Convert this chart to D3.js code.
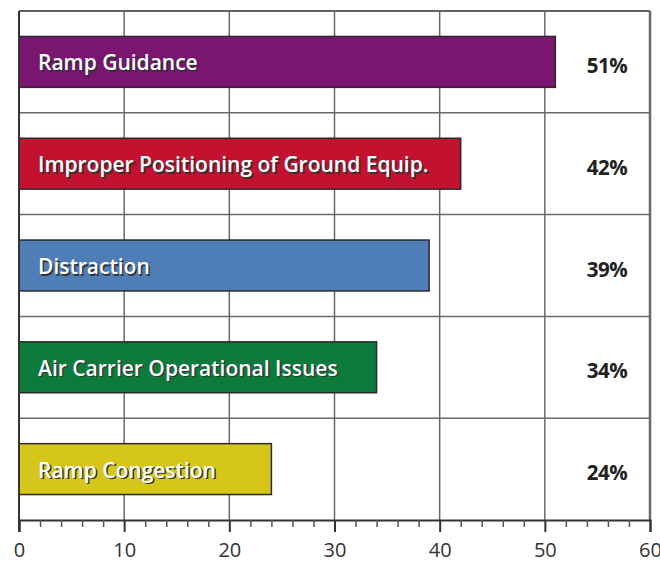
<!DOCTYPE html>
<html>
<head>
<meta charset="utf-8">
<script src="https://cdn.jsdelivr.net/npm/d3@7"></script>
<style>
  body { margin: 0; background: #fff; }
  svg { display: block; }
</style>
</head>
<body>
<div id="chart"></div>
<script>
// values
const categories = [
  "Ramp Guidance",
  "Improper Positioning of Ground Equip.",
  "Distraction",
  "Air Carrier Operational Issues",
  "Ramp Congestion"
];
const values = [51, 42, 39, 34, 24];
const barColors = ["#7a1670", "#c3122f", "#4f7db5", "#0b7a3b", "#d6c61a"];
const majorTicks = [0, 10, 20, 30, 40, 50, 60];
const minorTicks = d3.range(0, 61, 2).filter(d => d % 10 !== 0);

let width = 660, height = 563;
let margin = {top: 11, right: 10, bottom: 43, left: 19};

let svg = d3.select("#chart")
  .append("svg")
  .attr("width", width)
  .attr("height", height);

let x = d3.scaleLinear()
  .domain([0, 60])
  .range([margin.left, width - margin.right]);

let y = d3.scaleBand()
  .domain(categories)
  .range([margin.top, height - margin.bottom])
  .paddingInner(0.5)
  .paddingOuter(0.25);

let step = y.step();
let plotBottom = height - margin.bottom;

// vertical grid
svg.append("g")
  .selectAll("line")
  .data(majorTicks.slice(1))
  .enter()
  .append("line")
  .attr("x1", d => x(d)).attr("x2", d => x(d))
  .attr("y1", margin.top).attr("y2", plotBottom)
  .attr("stroke", "#6a6a6a")
  .attr("stroke-width", d => d === 60 ? 2.5 : 1.5);

// horizontal grid, between the bands
svg.append("g")
  .selectAll("line")
  .data(d3.range(0, categories.length))
  .enter()
  .append("line")
  .attr("x1", margin.left).attr("x2", x(60))
  .attr("y1", d => margin.top + d * step)
  .attr("y2", d => margin.top + d * step)
  .attr("stroke", "#6a6a6a")
  .attr("stroke-width", 1.5);

// bars
svg.append("g")
  .selectAll("rect")
  .data(values)
  .enter()
  .append("rect")
  .attr("x", x(0))
  .attr("y", (d, i) => y(categories[i]))
  .attr("width", d => x(d) - x(0))
  .attr("height", y.bandwidth())
  .attr("fill", (d, i) => barColors[i])
  .attr("stroke", "#2a2a2a")
  .attr("stroke-width", 1.5);

// bar labels with a dark shadow
let labels = svg.append("g")
  .attr("font-family", "'Open Sans', sans-serif")
  .attr("font-weight", 600)
  .attr("font-size", 21);

labels.selectAll("text.shadow")
  .data(categories)
  .enter()
  .append("text")
  .attr("class", "shadow")
  .attr("x", 39.5)
  .attr("y", d => y(d) + y.bandwidth() / 2 + 10)
  .attr("fill", "#333")
  .text(d => d);

labels.selectAll("text.main")
  .data(categories)
  .enter()
  .append("text")
  .attr("class", "main")
  .attr("x", 38)
  .attr("y", d => y(d) + y.bandwidth() / 2 + 8.5)
  .attr("fill", "#fff")
  .text(d => d);

// percentages on the right
svg.append("g")
  .selectAll("text")
  .data(values)
  .enter()
  .append("text")
  .attr("x", 607)
  .attr("y", (d, i) => y(categories[i]) + y.bandwidth() / 2 + 11)
  .attr("text-anchor", "middle")
  .attr("font-family", "'Open Sans', sans-serif")
  .attr("font-weight", 700)
  .attr("font-size", 20.5)
  .attr("letter-spacing", -0.5)
  .attr("fill", "#222")
  .text(d => d + "%");

// top frame line
svg.append("line")
  .attr("x1", margin.left).attr("x2", x(60))
  .attr("y1", margin.top).attr("y2", margin.top)
  .attr("stroke", "#555")
  .attr("stroke-width", 1.5);

// left axis line
svg.append("line")
  .attr("x1", x(0)).attr("x2", x(0))
  .attr("y1", margin.top).attr("y2", plotBottom + 12)
  .attr("stroke", "#333")
  .attr("stroke-width", 2);

// bottom axis
let xAxis = svg.append("g")
  .attr("transform", `translate(0,${plotBottom})`)
  .call(d3.axisBottom(x)
    .tickValues(majorTicks)
    .tickSize(12)
    .tickPadding(11)
    .tickFormat(d3.format("d")));

xAxis.select(".domain").attr("stroke", "#333").attr("stroke-width", 2);
xAxis.selectAll(".tick line").attr("stroke", "#333").attr("stroke-width", 2);
xAxis.selectAll(".tick text")
  .attr("font-family", "'Open Sans', sans-serif")
  .attr("font-size", 20)
  .attr("fill", "#333");

svg.append("g")
  .attr("transform", `translate(0,${plotBottom})`)
  .call(d3.axisBottom(x).tickValues(minorTicks).tickSize(7).tickFormat(""))
  .call(g => g.select(".domain").remove())
  .selectAll(".tick line")
  .attr("stroke", "#555")
  .attr("stroke-width", 1.5);
</script>
</body>
</html>
